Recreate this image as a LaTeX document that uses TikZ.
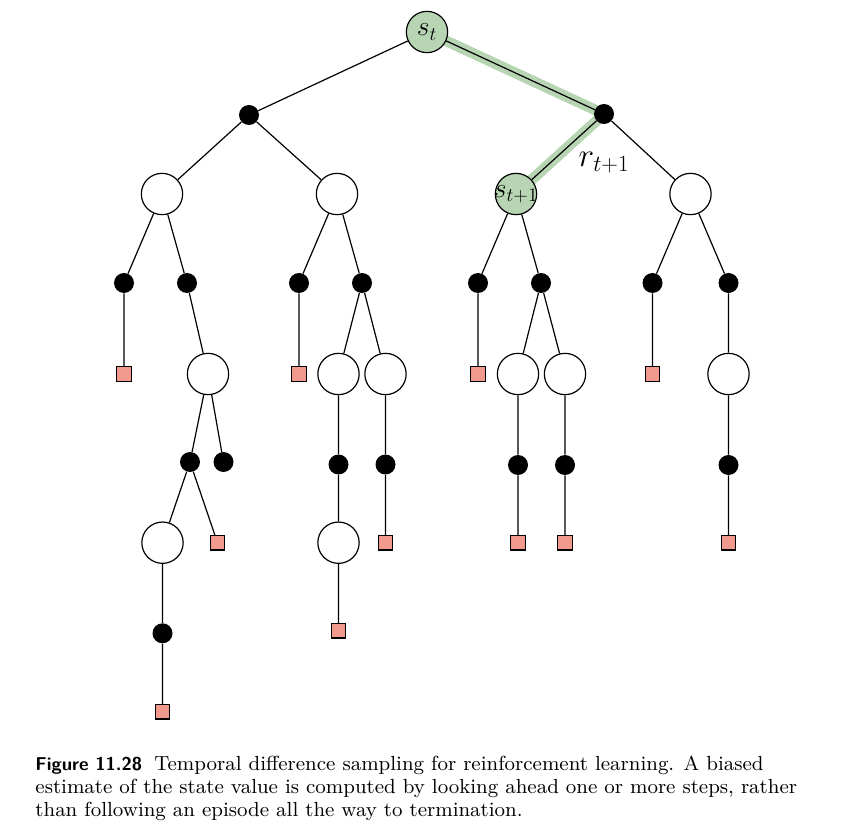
\documentclass[tikz,border=0pt]{standalone}
\usetikzlibrary{backgrounds}

\definecolor{stategreen}{RGB}{183,213,179}
\definecolor{termred}{RGB}{242,153,141}

\tikzset{
    state/.style={circle, draw, line width=0.9pt, fill=white, minimum size=31pt, inner sep=0pt},
    greenstate/.style={state, fill=stategreen},
    act/.style={circle, fill=black, minimum size=15pt, inner sep=0pt},
    term/.style={rectangle, draw, line width=0.9pt, fill=termred, minimum size=11pt, inner sep=0pt},
    edge/.style={line width=0.9pt},
    glow/.style={stategreen, line width=8pt, line join=round},
    mathlabel/.style={font=\fontsize{20}{20}\selectfont, inner sep=0pt}
}

\begin{document}
\begin{tikzpicture}[x=0.75pt, y=-0.75pt]
    \useasboundingbox (0,0) rectangle (844,827);
    % root and first actions
    \node[greenstate, mathlabel] (st) at (427,32) {$s_t$};
    \node[act] (a1) at (249,115) {};
    \node[act, label={[font=\fontsize{23}{23}\selectfont, inner sep=0pt, label distance=21pt]below:$r_{t+1}$}] (a2) at (604,114) {};
    % second level states
    \node[state] (s1) at (162,194) {};
    \node[state] (s2) at (337,194) {};
    \node[greenstate, label={[mathlabel]center:$s_{t+1}$}] (s3) at (516,194) {};
    \node[state] (s4) at (690.5,194) {};
    % actions
    \node[act] (a11) at (124,283) {};
    \node[act] (a12) at (187,283) {};
    \node[act] (a21) at (299,283) {};
    \node[act] (a22) at (362,283) {};
    \node[act] (a31) at (478,283) {};
    \node[act] (a32) at (541,283) {};
    \node[act] (a41) at (652.5,283) {};
    \node[act] (a42) at (728.5,283) {};
    % fourth level
    \node[term] (t11) at (124,374) {};
    \node[state] (s12) at (208,374) {};
    \node[term] (t21) at (299,374) {};
    \node[state] (s22a) at (338.5,374) {};
    \node[state] (s22b) at (385.5,374) {};
    \node[term] (t31) at (478,374) {};
    \node[state] (s32a) at (518,374) {};
    \node[state] (s32b) at (565,374) {};
    \node[term] (t41) at (652.5,374) {};
    \node[state] (s42) at (728.5,374) {};
    % fifth level
    \node[act] (a12a) at (190,462) {};
    \node[act] (a12b) at (223.5,462) {};
    \node[act] (a22a) at (338.5,464.5) {};
    \node[act] (a22b) at (385.5,464.5) {};
    \node[act] (a32a) at (518,465) {};
    \node[act] (a32b) at (565,465) {};
    \node[act] (a42a) at (728.5,465) {};
    % sixth level
    \node[state] (s12a) at (162.5,542.7) {};
    \node[term] (t12a) at (217.5,542.7) {};
    \node[state] (s22c) at (338.5,542.7) {};
    \node[term] (t22b) at (385.5,542.7) {};
    \node[term] (t32a) at (518,542.7) {};
    \node[term] (t32b) at (565,542.7) {};
    \node[term] (t42a) at (728.5,542.7) {};
    % deepest
    \node[act] (a12c) at (162.5,633.3) {};
    \node[term] (t22c) at (338.5,630.7) {};
    \node[term] (t12c) at (162.5,711.7) {};

    \begin{scope}[on background layer]
        \draw[glow] (st.center) -- (a2.center) -- (s3.center);
    \end{scope}

    \draw[edge]
        (st) -- (a1)  (st) -- (a2)
        (a1) -- (s1)  (a1) -- (s2)  (a2) -- (s3)  (a2) -- (s4)
        (s1) -- (a11)  (s1) -- (a12)  (s2) -- (a21)  (s2) -- (a22)
        (s3) -- (a31)  (s3) -- (a32)  (s4) -- (a41)  (s4) -- (a42)
        (a11) -- (t11)  (a12) -- (s12)  (a21) -- (t21)
        (a22) -- (s22a)  (a22) -- (s22b)  (a31) -- (t31)
        (a32) -- (s32a)  (a32) -- (s32b)  (a41) -- (t41)  (a42) -- (s42)
        (s12) -- (a12a)  (s12) -- (a12b)  (s22a) -- (a22a)  (s22b) -- (a22b)
        (s32a) -- (a32a)  (s32b) -- (a32b)  (s42) -- (a42a)
        (a12a) -- (s12a)  (a12a) -- (t12a)  (a22a) -- (s22c)  (a22b) -- (t22b)
        (a32a) -- (t32a)  (a32b) -- (t32b)  (a42a) -- (t42a)
        (s12a) -- (a12c)  (s22c) -- (t22c)  (a12c) -- (t12c);

    % caption
    \node[anchor=north west, inner sep=0pt, align=left, scale=1.70, transform shape,
          font=\fontsize{9}{10.15}\selectfont] (caption) at (35,755)
        {{\fontsize{8.2}{10.15}\selectfont\sffamily\bfseries Figure 11.28}\hspace{0.6em}Temporal difference sampling for reinforcement learning. A biased\\
        estimate of the state value is computed by looking ahead one or more steps, rather\\
        than following an episode all the way to termination.};
\end{tikzpicture}
\end{document}
